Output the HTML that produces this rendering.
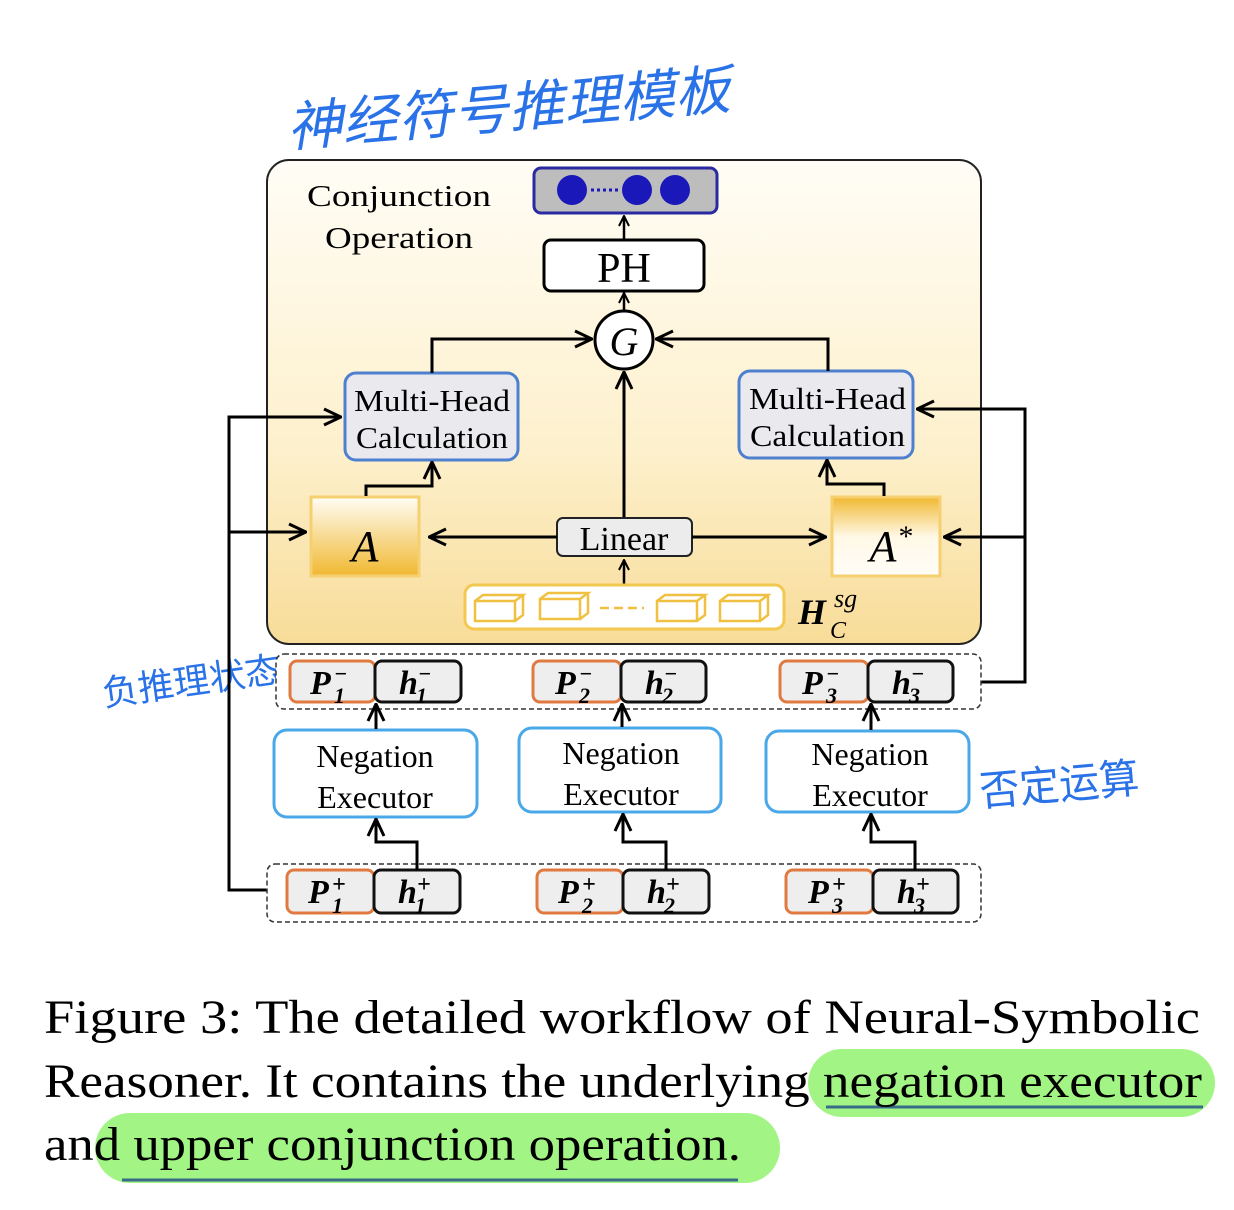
<!DOCTYPE html>
<html><head><meta charset="utf-8"><style>
html,body{margin:0;padding:0;background:#fff;}
svg{display:block;}
.s{font-family:"Liberation Serif",serif;}
.h{font-family:"Liberation Sans","Noto Sans CJK SC",sans-serif;fill:#2a72e8;}
</style></head><body>
<svg width="1234" height="1210" viewBox="0 0 1234 1210" xmlns="http://www.w3.org/2000/svg">
<defs>
<linearGradient id="bg" x1="0" y1="0" x2="0" y2="1">
<stop offset="0" stop-color="#fffdf6"/><stop offset="0.6" stop-color="#fdf0cc"/><stop offset="1" stop-color="#f8dc98"/></linearGradient>
<linearGradient id="ga" x1="0" y1="0" x2="0" y2="1">
<stop offset="0" stop-color="#fffdf5"/><stop offset="1" stop-color="#f0b830"/></linearGradient>
<linearGradient id="gb" x1="0" y1="0" x2="0" y2="1">
<stop offset="0" stop-color="#f0b830"/><stop offset="0.5" stop-color="#fff8e6"/><stop offset="1" stop-color="#fffdf8"/></linearGradient>
<marker id="ar" viewBox="0 0 12 12" refX="11" refY="6" markerWidth="12" markerHeight="12" markerUnits="userSpaceOnUse" orient="auto">
<path d="M1,1 L11,6 L1,11" fill="none" stroke="#000" stroke-width="2"/></marker>
<marker id="ar2" viewBox="0 0 20 20" refX="19" refY="10" markerWidth="20" markerHeight="20" markerUnits="userSpaceOnUse" orient="auto">
<path d="M2,2 L19,10 L2,18" fill="none" stroke="#000" stroke-width="3"/></marker>
</defs>

<!-- handwritten -->
<text class="h" x="285" y="128" font-size="54" textLength="445" lengthAdjust="spacingAndGlyphs" transform="rotate(-5 500 100)" style="font-style:italic">神经符号推理模板</text>
<text class="h" x="748" y="258" font-size="50" textLength="200" lengthAdjust="spacingAndGlyphs" transform="rotate(-5 840 230)">合取运算</text>
<text class="h" x="100" y="694" font-size="36" textLength="180" lengthAdjust="spacingAndGlyphs" transform="rotate(-8 190 670)">负推理状态</text>
<text class="h" x="978" y="800" font-size="42" textLength="160" lengthAdjust="spacingAndGlyphs" transform="rotate(-5 1050 770)">否定运算</text>

<!-- main box -->
<rect x="267" y="160" width="714" height="484" rx="22" fill="url(#bg)" stroke="#222" stroke-width="2"/>
<text class="s" x="307" y="206" font-size="31" textLength="184" lengthAdjust="spacingAndGlyphs">Conjunction</text>
<text class="s" x="325" y="248" font-size="31" textLength="148" lengthAdjust="spacingAndGlyphs">Operation</text>

<!-- output -->
<rect x="534" y="168" width="183" height="45" rx="7" fill="#bdbdbd" stroke="#2a2aa0" stroke-width="3"/>
<circle cx="572" cy="190" r="15" fill="#1a18b8"/>
<circle cx="637" cy="190" r="15" fill="#1a18b8"/>
<circle cx="675" cy="190" r="15" fill="#1a18b8"/>
<line x1="591" y1="190" x2="619" y2="190" stroke="#1a18b8" stroke-width="3" stroke-dasharray="3 3"/>
<line x1="624" y1="240" x2="624" y2="216" stroke="#000" stroke-width="2.5" marker-end="url(#ar)"/>

<rect x="544" y="240" width="160" height="51" rx="7" fill="#fff" stroke="#000" stroke-width="3"/>
<text class="s" x="624" y="282" font-size="42" text-anchor="middle">PH</text>
<line x1="624" y1="310" x2="624" y2="293" stroke="#000" stroke-width="2.5" marker-end="url(#ar)"/>

<circle cx="624" cy="340" r="29" fill="#fff" stroke="#000" stroke-width="3"/>
<text class="s" x="624" y="355" font-size="40" font-style="italic" text-anchor="middle">G</text>

<!-- multihead -->
<rect x="345" y="373" width="173" height="87" rx="11" fill="#e9e9ee" stroke="#4e80d0" stroke-width="3"/>
<text class="s" x="354" y="411" font-size="31" textLength="156" lengthAdjust="spacingAndGlyphs">Multi-Head</text>
<text class="s" x="356" y="448" font-size="31" textLength="152" lengthAdjust="spacingAndGlyphs">Calculation</text>
<rect x="739" y="371" width="174" height="87" rx="11" fill="#e9e9ee" stroke="#4e80d0" stroke-width="3"/>
<text class="s" x="749" y="409" font-size="31" textLength="157" lengthAdjust="spacingAndGlyphs">Multi-Head</text>
<text class="s" x="750" y="446" font-size="31" textLength="155" lengthAdjust="spacingAndGlyphs">Calculation</text>

<path d="M432 373 V339 H592" fill="none" stroke="#000" stroke-width="3" marker-end="url(#ar2)"/>
<path d="M828 371 V339 H656" fill="none" stroke="#000" stroke-width="3" marker-end="url(#ar2)"/>
<line x1="624" y1="517" x2="624" y2="372" stroke="#000" stroke-width="3" marker-end="url(#ar2)"/>

<!-- A boxes -->
<rect x="311" y="497" width="108" height="79" fill="url(#ga)" stroke="#f6d070" stroke-width="3"/>
<text class="s" x="365" y="561" font-size="44" font-style="italic" text-anchor="middle">A</text>
<rect x="832" y="497" width="108" height="79" fill="url(#gb)" stroke="#f6d070" stroke-width="3"/>
<text class="s" x="883" y="561" font-size="44" font-style="italic" text-anchor="middle">A</text>
<text class="s" x="906" y="546" font-size="30" text-anchor="middle">*</text>

<path d="M366 496 V486 H432 V462" fill="none" stroke="#000" stroke-width="3" marker-end="url(#ar2)"/>
<path d="M884 496 V484 H827 V460" fill="none" stroke="#000" stroke-width="3" marker-end="url(#ar2)"/>

<!-- linear -->
<rect x="557" y="518" width="135" height="38" rx="6" fill="#ececec" stroke="#222" stroke-width="2"/>
<text class="s" x="624" y="550" font-size="34" text-anchor="middle">Linear</text>
<line x1="557" y1="537" x2="429" y2="537" stroke="#000" stroke-width="3" marker-end="url(#ar2)"/>
<line x1="692" y1="537" x2="826" y2="537" stroke="#000" stroke-width="3" marker-end="url(#ar2)"/>
<line x1="624" y1="584" x2="624" y2="560" stroke="#000" stroke-width="2.5" marker-end="url(#ar)"/>

<!-- H -->
<rect x="465" y="585" width="319" height="44" rx="9" fill="#fff" stroke="#f3c850" stroke-width="3"/>
<g fill="none" stroke="#f0c040" stroke-width="2.5">
<path d="M475 601 h40 v20 h-40 z M475 601 l8 -6 h40 l-8 6 M523 595 v20 l-8 6"/>
<path d="M540 599 h40 v20 h-40 z M540 599 l8 -6 h40 l-8 6 M588 593 v20 l-8 6"/>
<path d="M657 601 h40 v20 h-40 z M657 601 l8 -6 h40 l-8 6 M705 595 v20 l-8 6"/>
<path d="M720 601 h40 v20 h-40 z M720 601 l8 -6 h40 l-8 6 M768 595 v20 l-8 6"/>
<path d="M600 608 h44" stroke-dasharray="9 5"/>
</g>
<text class="s" x="798" y="624" font-size="36" font-weight="bold" font-style="italic">H</text>
<text class="s" x="834" y="607" font-size="26" font-style="italic">sg</text>
<text class="s" x="830" y="638" font-size="24" font-style="italic">C</text>

<!-- side connectors -->
<path d="M267 890 H229 V417 H341" fill="none" stroke="#000" stroke-width="3" marker-end="url(#ar2)"/>
<line x1="229" y1="532" x2="306" y2="532" stroke="#000" stroke-width="3" marker-end="url(#ar2)"/>
<path d="M981 682 H1025 V409 H917" fill="none" stroke="#000" stroke-width="3" marker-end="url(#ar2)"/>
<line x1="1025" y1="537" x2="944" y2="537" stroke="#000" stroke-width="3" marker-end="url(#ar2)"/>

<rect x="276" y="654" width="705" height="55" rx="8" fill="#fff" stroke="#333" stroke-width="1.5" stroke-dasharray="5 3"/>
<rect x="267" y="864" width="714" height="58" rx="8" fill="#fff" stroke="#333" stroke-width="1.5" stroke-dasharray="5 3"/>

<g class="s" font-size="34" font-weight="bold" font-style="italic">
<rect x="290" y="661" width="85" height="41" rx="7" fill="#eee" stroke="#e07a40" stroke-width="3"/>
<rect x="375" y="661" width="86" height="41" rx="7" fill="#eee" stroke="#111" stroke-width="3"/>
<text x="310" y="694">P</text><text x="334" y="681" font-size="22">−</text><text x="334" y="703" font-size="22">1</text>
<text x="399" y="694">h</text><text x="418" y="681" font-size="22">−</text><text x="416" y="703" font-size="22">1</text>
<rect x="533" y="661" width="88" height="41" rx="7" fill="#eee" stroke="#e07a40" stroke-width="3"/>
<rect x="621" y="661" width="85" height="41" rx="7" fill="#eee" stroke="#111" stroke-width="3"/>
<text x="555" y="694">P</text><text x="579" y="681" font-size="22">−</text><text x="579" y="703" font-size="22">2</text>
<text x="645" y="694">h</text><text x="664" y="681" font-size="22">−</text><text x="662" y="703" font-size="22">2</text>
<rect x="780" y="661" width="88" height="41" rx="7" fill="#eee" stroke="#e07a40" stroke-width="3"/>
<rect x="868" y="661" width="85" height="41" rx="7" fill="#eee" stroke="#111" stroke-width="3"/>
<text x="802" y="694">P</text><text x="826" y="681" font-size="22">−</text><text x="826" y="703" font-size="22">3</text>
<text x="892" y="694">h</text><text x="911" y="681" font-size="22">−</text><text x="909" y="703" font-size="22">3</text>

<rect x="287" y="870" width="87" height="43" rx="7" fill="#eee" stroke="#e07a40" stroke-width="3"/>
<rect x="374" y="870" width="86" height="43" rx="7" fill="#eee" stroke="#111" stroke-width="3"/>
<text x="308" y="903">P</text><text x="332" y="892" font-size="24">+</text><text x="332" y="913" font-size="22">1</text>
<text x="398" y="903">h</text><text x="417" y="892" font-size="24">+</text><text x="415" y="913" font-size="22">1</text>
<rect x="537" y="870" width="86" height="43" rx="7" fill="#eee" stroke="#e07a40" stroke-width="3"/>
<rect x="623" y="870" width="86" height="43" rx="7" fill="#eee" stroke="#111" stroke-width="3"/>
<text x="558" y="903">P</text><text x="582" y="892" font-size="24">+</text><text x="582" y="913" font-size="22">2</text>
<text x="647" y="903">h</text><text x="666" y="892" font-size="24">+</text><text x="664" y="913" font-size="22">2</text>
<rect x="786" y="870" width="87" height="43" rx="7" fill="#eee" stroke="#e07a40" stroke-width="3"/>
<rect x="873" y="870" width="85" height="43" rx="7" fill="#eee" stroke="#111" stroke-width="3"/>
<text x="808" y="903">P</text><text x="832" y="892" font-size="24">+</text><text x="832" y="913" font-size="22">3</text>
<text x="897" y="903">h</text><text x="916" y="892" font-size="24">+</text><text x="914" y="913" font-size="22">3</text>
</g>

<g fill="#fff" stroke="#4aa8e8" stroke-width="3">
<rect x="274" y="730" width="203" height="87" rx="13"/>
<rect x="519" y="728" width="202" height="84" rx="13"/>
<rect x="766" y="731" width="203" height="81" rx="13"/>
</g>
<g class="s" font-size="32" text-anchor="middle">
<text x="375" y="767">Negation</text><text x="375" y="808">Executor</text>
<text x="621" y="764">Negation</text><text x="621" y="805">Executor</text>
<text x="870" y="765">Negation</text><text x="870" y="806">Executor</text>
</g>
<g fill="none" stroke="#000" stroke-width="3">
<line x1="376" y1="729" x2="376" y2="704" marker-end="url(#ar2)"/>
<line x1="622" y1="727" x2="622" y2="704" marker-end="url(#ar2)"/>
<line x1="871" y1="730" x2="871" y2="704" marker-end="url(#ar2)"/>
<path d="M417 870 V842 H376 V819" marker-end="url(#ar2)"/>
<path d="M666 870 V842 H623 V814" marker-end="url(#ar2)"/>
<path d="M915 870 V842 H871 V814" marker-end="url(#ar2)"/>
</g>

<rect x="808" y="1049" width="407" height="68" rx="34" fill="#a2f584"/>
<rect x="95" y="1113" width="685" height="70" rx="35" fill="#a2f584"/>
<line x1="826" y1="1107" x2="1203" y2="1107" stroke="#3a6a8a" stroke-width="3"/>
<line x1="122" y1="1180" x2="738" y2="1180" stroke="#3a6a8a" stroke-width="3"/>
<g class="s" font-size="48" fill="#000">
<text x="44" y="1033" textLength="1156" lengthAdjust="spacingAndGlyphs">Figure 3:  The detailed workflow of Neural-Symbolic</text>
<text x="44" y="1097" textLength="1158" lengthAdjust="spacingAndGlyphs">Reasoner. It contains the underlying negation executor</text>
<text x="44" y="1160" textLength="697" lengthAdjust="spacingAndGlyphs">and upper conjunction operation.</text>
</g>
</svg>
</body></html>
